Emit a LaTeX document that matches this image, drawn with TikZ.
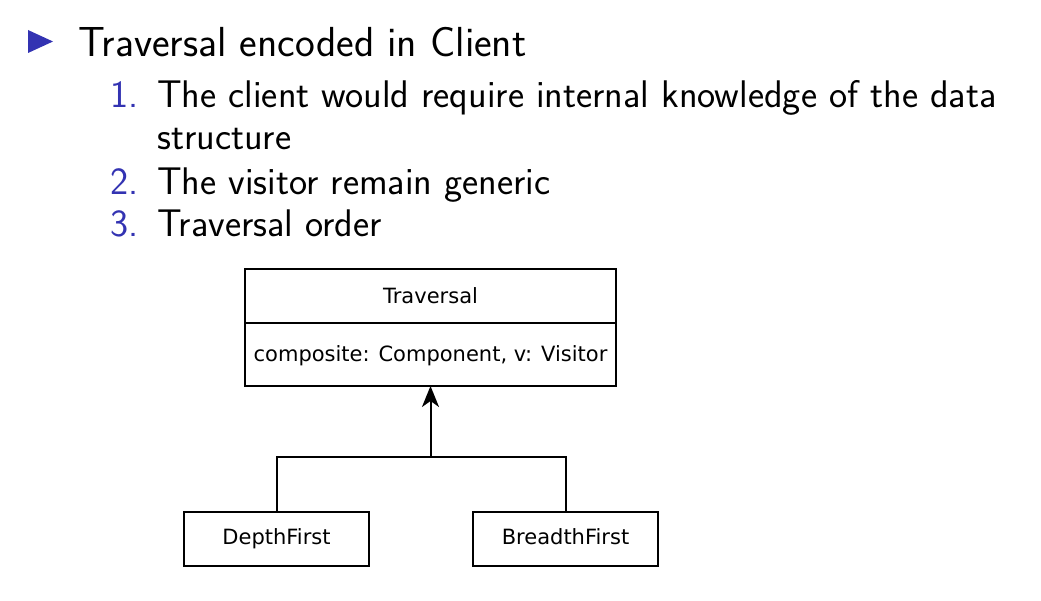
\documentclass[tikz,border=0pt]{standalone}
\usepackage{fontspec}
\newfontfamily\umlfont{DejaVu Sans}
\usetikzlibrary{arrows.meta}
\definecolor{structure}{rgb}{0.2,0.2,0.7}
\begin{document}
\begin{tikzpicture}[x=1pt,y=-1pt,
  itemtext/.style={anchor=base west,inner sep=0pt,font=\sffamily\fontsize{42}{48}\selectfont},
  subtext/.style={anchor=base west,inner sep=0pt,font=\sffamily\fontsize{38.5}{44}\selectfont},
  enumlabel/.style={subtext,text=structure},
  umlbox/.style={draw,line width=2pt},
  umltext/.style={inner sep=0pt,text height=15pt,text depth=4pt,font=\umlfont\fontsize{21}{24}\selectfont},
  link/.style={line width=2pt}]
\useasboundingbox (0,0) rectangle (1041,601);
% bullet
\fill[structure] (28,30) -- (53,41.5) -- (28,53) -- cycle;
\node[itemtext] (t0) at (78,57) {Traversal encoded in Client};
\node[enumlabel] (n1) at (110,108) {1.};
\node[subtext] (t1) at (157,108) {The client would require internal knowledge of the data};
\node[subtext] (t1b) at (157,150) {structure};
\node[enumlabel] (n2) at (110,195) {2.};
\node[subtext] (t2) at (157,195) {The visitor remain generic};
\node[enumlabel] (n3) at (110,237) {3.};
\node[subtext] (t3) at (157,237) {Traversal order};
% UML class
\draw[umlbox] (245,269) rectangle (616,386);
\draw[link] (245,323) -- (616,323);
\coordinate (top) at (430.5,386);
\node[umltext] (cname) at (430.5,298) {Traversal};
\node[umltext] (cattr) at (430.5,356) {composite: Component, v: Visitor};
\node[umlbox,minimum width=185pt,minimum height=54pt,umltext] (df) at (276.5,539) {DepthFirst};
\node[umlbox,minimum width=185pt,minimum height=54pt,umltext] (bf) at (565.5,539) {BreadthFirst};
\coordinate (join) at (430.5,457);
\draw[link] (df.north) |- (join) -| (bf.north);
\draw[link,-{Stealth[length=21pt,width=17pt,inset=6pt]}] (join) -- (top);
\end{tikzpicture}
\end{document}
